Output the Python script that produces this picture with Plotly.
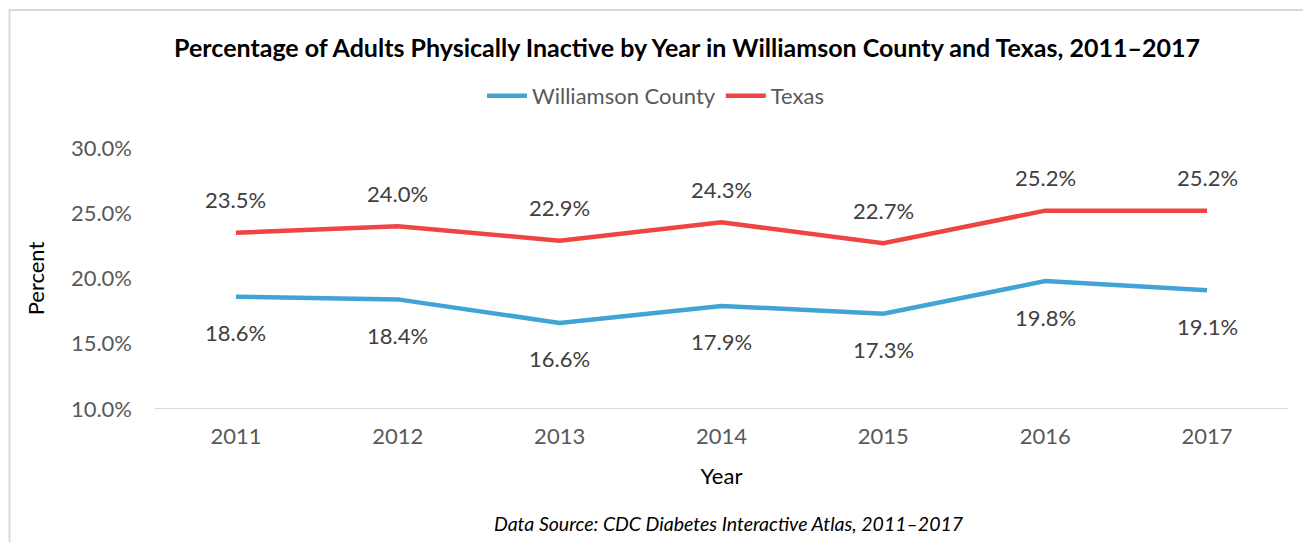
import plotly.graph_objects as go

years = ["2011", "2012", "2013", "2014", "2015", "2016", "2017"]
williamson = [18.6, 18.4, 16.6, 17.9, 17.3, 19.8, 19.1]
texas = [23.5, 24.0, 22.9, 24.3, 22.7, 25.2, 25.2]
y_ticks = [10, 15, 20, 25, 30]

BLUE = "#41A4D4"
RED = "#EE4443"
FONT = "Lato"
OFF = 8  # page body margin

W, H = 1311, 542
# target page positions of the plot area
PL, PR, PT, PB = 155, 1288, 148, 409
L, T = PL - OFF, PT - OFF
R = W - (PR - OFF)
B = H - (PB - OFF)

pw, ph = W - L - R, H - T - B
def px(xp): return (xp - OFF - L) / pw
def py(yp): return (H - B - (yp - OFF)) / ph

fig = go.Figure()
fig.add_trace(go.Scatter(x=years, y=williamson, mode="lines", name="Williamson County",
                         line=dict(color=BLUE, width=4.5)))
fig.add_trace(go.Scatter(x=years, y=texas, mode="lines", name="Texas",
                         line=dict(color=RED, width=4.5)))

ann = []
for i, v in enumerate(texas):
    ann.append(dict(x=i, y=v, xref="x", yref="y", text=f"{v:.1f}%", showarrow=False,
                    yshift=33, font=dict(family=FONT, size=22, color="#404040")))
for i, v in enumerate(williamson):
    ann.append(dict(x=i, y=v, xref="x", yref="y", text=f"{v:.1f}%", showarrow=False,
                    yshift=-36, font=dict(family=FONT, size=22, color="#404040")))

ann.append(dict(x=px(729), y=py(523), xref="paper", yref="paper", showarrow=False,
                xanchor="center", yanchor="middle",
                text="<i>Data Source: CDC Diabetes Interactive Atlas, 2011–2017</i>",
                font=dict(family=FONT, size=19.5, color="#000000")))

fig.update_layout(
    width=W, height=H,
    margin=dict(l=L, r=R, t=T, b=B),
    paper_bgcolor="white", plot_bgcolor="white",
    font=dict(family=FONT, size=22, color="#595959"),
    title=dict(text="<b>Percentage of Adults Physically Inactive by Year in Williamson County and Texas, 2011–2017</b>",
               x=(687 - OFF) / W, xanchor="center", y=1 - (48 - OFF) / H, yanchor="middle",
               font=dict(family=FONT, size=25, color="#000000")),
    legend=dict(orientation="h", x=px(656), xanchor="center", y=py(96), yanchor="middle",
                font=dict(family=FONT, size=22, color="#595959"), itemwidth=40,
                tracegroupgap=0),
    xaxis=dict(type="category", range=[-0.5, 6.5], showgrid=False, showline=False,
               ticks="", tickfont=dict(family=FONT, size=22, color="#595959"),
               ticklabelstandoff=12,
               title=dict(text="Year", standoff=20, font=dict(family=FONT, size=22, color="#000000"))),
    yaxis=dict(range=[10, 30], tickvals=y_ticks, ticktext=[f"{v:.1f}%" for v in y_ticks],
               showgrid=False, zeroline=False, showline=False, ticks="",
               tickfont=dict(family=FONT, size=22, color="#595959"), ticklabelstandoff=22,
               title=dict(text="Percent", standoff=20, font=dict(family=FONT, size=22, color="#000000"))),
    annotations=ann,
    shapes=[
        dict(type="line", xref="paper", yref="y", x0=0, x1=1, y0=10, y1=10,
             line=dict(color="#D9D9D9", width=2), layer="below"),
        dict(type="rect", xref="paper", yref="paper", x0=px(OFF + 1.5), x1=px(1330), y0=py(10), y1=py(570),
             line=dict(color="#D9D9D9", width=2), fillcolor="rgba(0,0,0,0)", layer="below"),
    ],
    showlegend=True,
)

fig.write_html("out.html")
